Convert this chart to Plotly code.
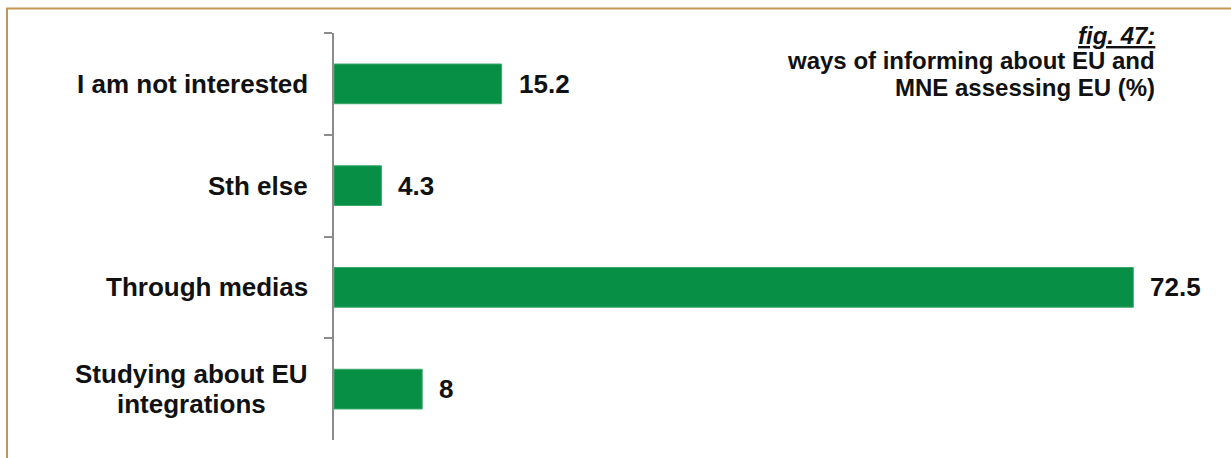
import plotly.graph_objects as go

categories = ["I am not interested", "Sth else", "Through medias", "Studying about EU<br>integrations"]
values = [15.2, 4.3, 72.5, 8]
value_labels = ["15.2", "4.3", "72.5", "8"]
title_lines = ["<i><u>fig. 47:</u></i>", "ways of informing about EU and", "MNE assessing EU (%)"]

W, H = 1231, 458
L, R, T, B = 334, 15, 33, 18
XMAX = 80
pw = W - L - R
ph = H - T - B

def px_to_px(x):
    return (x - L) / pw

def py_to_py(y):
    return (H - B - y) / ph

fig = go.Figure()
fig.add_trace(go.Bar(
    x=values, y=categories, orientation="h",
    marker=dict(color="#078f46", line=dict(color="#3aa86a", width=1)),
    width=0.39, hoverinfo="skip",
))

font_main = dict(family="Liberation Sans, Arial, sans-serif", size=26, color="#111111")

annotations = []
LINE_STEP = 30
for c in categories:
    parts = c.split("<br>")
    n = len(parts)
    if n == 1:
        annotations.append(dict(
            x=0, xref="paper", y=c, yref="y", text="<b>" + c + "</b>",
            xanchor="right", yanchor="middle", xshift=-24,
            showarrow=False, font=font_main,
        ))
    else:
        for i, p in enumerate(parts):
            annotations.append(dict(
                x=0, xref="paper", y=c, yref="y", text="<b>" + p + "</b>",
                xanchor="center", yanchor="middle", xshift=-143,
                yshift=((n - 1) / 2 - i) * LINE_STEP,
                showarrow=False, font=font_main,
            ))
for c, v, lab in zip(categories, values, value_labels):
    annotations.append(dict(
        x=v, xref="x", y=c, yref="y", text="<b>" + lab + "</b>",
        xanchor="left", yanchor="middle", xshift=15,
        showarrow=False, font=font_main,
    ))
title_y = [35, 60, 88]
for t, yy in zip(title_lines, title_y):
    annotations.append(dict(
        x=px_to_px(1157), xref="paper", y=py_to_py(yy), yref="paper",
        text="<b>" + t + "</b>", xanchor="right", yanchor="middle",
        showarrow=False, font=dict(family="Liberation Sans, Arial, sans-serif", size=24, color="#111111"),
    ))

fig.update_layout(
    width=W, height=H,
    margin=dict(l=L, r=R, t=T, b=B, pad=0),
    paper_bgcolor="white", plot_bgcolor="white",
    showlegend=False,
    bargap=0.61,
    annotations=annotations,
    xaxis=dict(range=[0, XMAX], visible=False, showgrid=False, zeroline=False),
    yaxis=dict(
        categoryorder="array", categoryarray=categories, autorange="reversed",
        showgrid=False, zeroline=False, showline=True, linecolor="#8c8c8c", linewidth=2,
        ticks="outside", ticklen=8, tickcolor="#8c8c8c", tickwidth=2, tickson="boundaries",
        showticklabels=False,
    ),
    shapes=[dict(
        type="rect", xref="paper", yref="paper",
        x0=px_to_px(7), x1=1.2, y0=-0.2, y1=py_to_py(8.5),
        line=dict(color="#c4964f", width=2), fillcolor="rgba(0,0,0,0)", layer="above",
    )],
)

fig.write_html("out.html", config={"displayModeBar": False},
               post_script="document.body.style.margin='0';document.body.style.overflow='hidden';")
